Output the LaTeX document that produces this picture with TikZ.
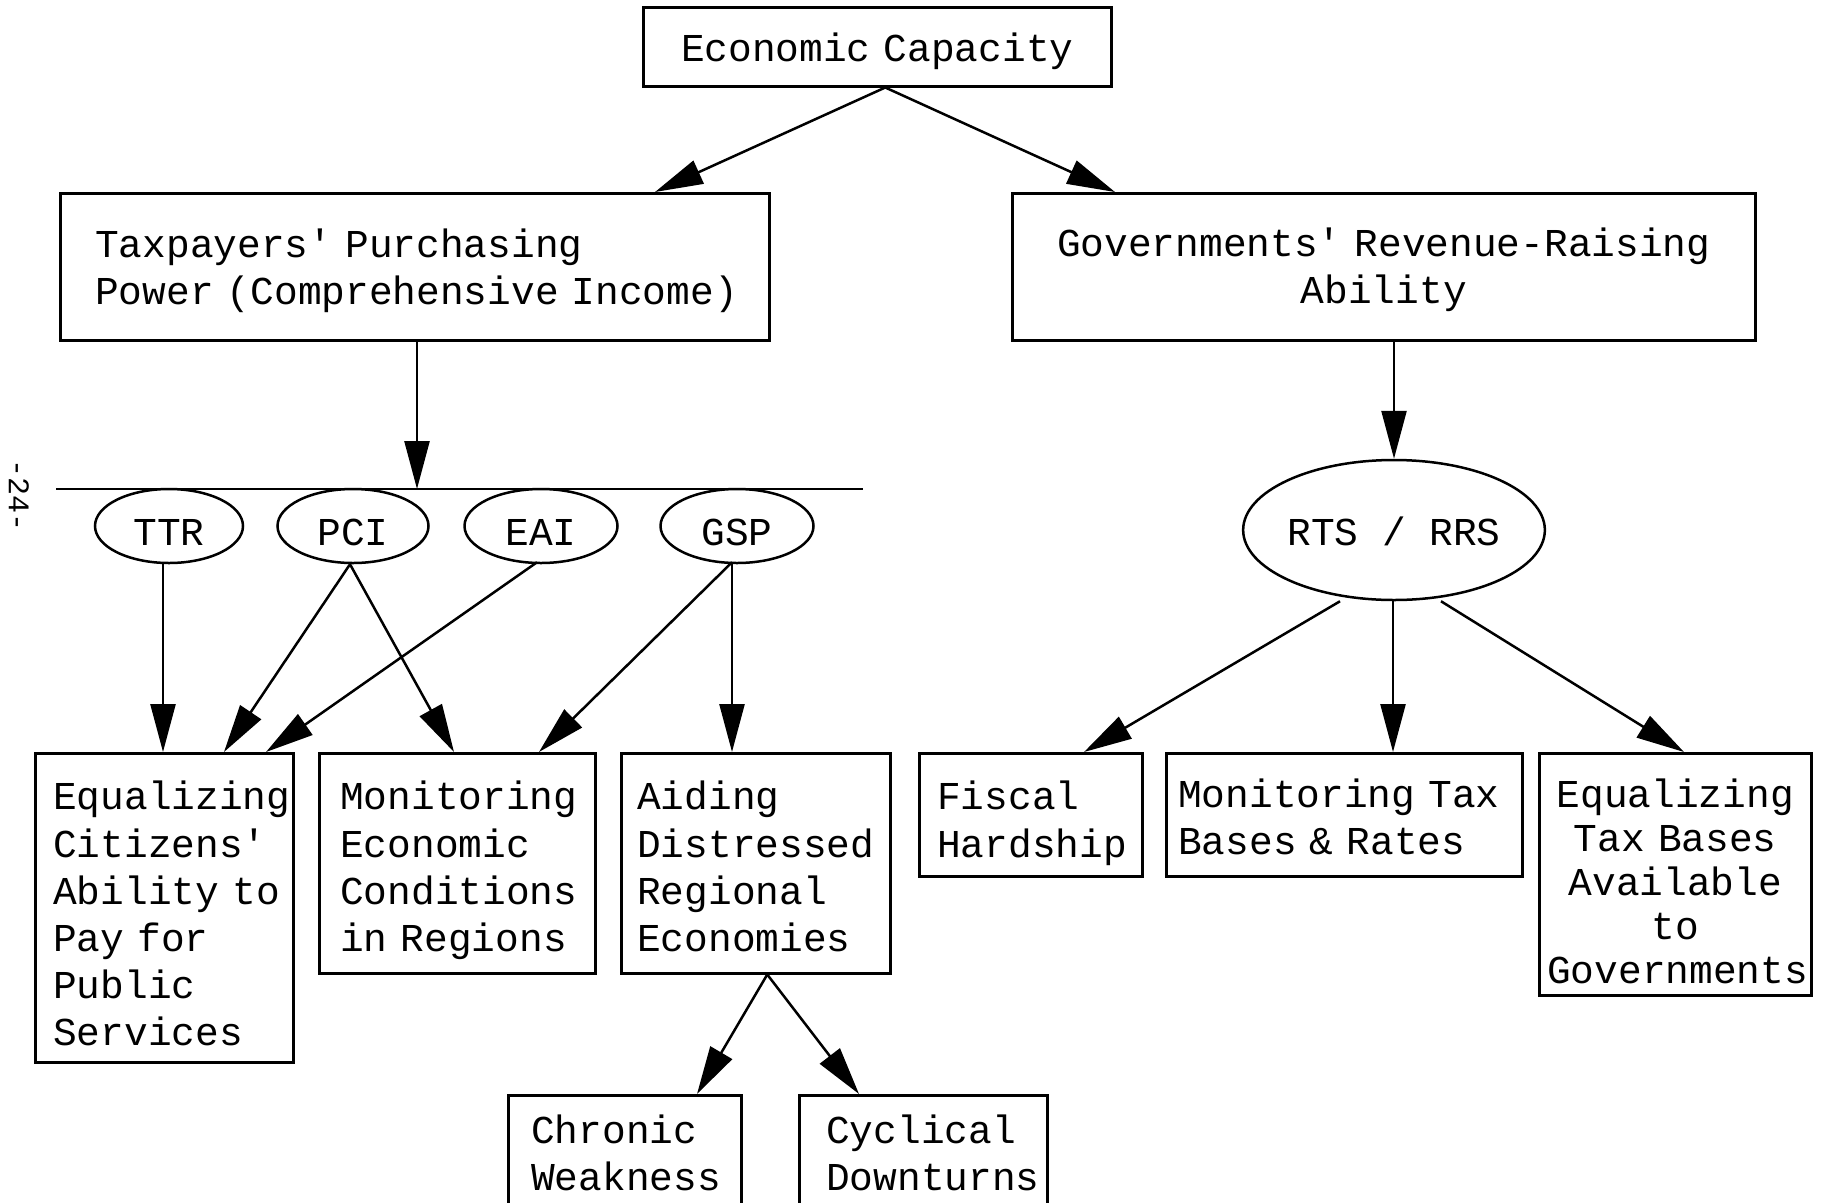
\documentclass[tikz,border=0pt]{standalone}
\usepackage{fontspec}
\newfontfamily\plotfont{Liberation Mono}
\usetikzlibrary{arrows.meta,shapes.geometric}
\newcommand\diagfont{\plotfont\fontsize{39.5pt}{47.2pt}\selectfont\hyphenpenalty=10000\exhyphenpenalty=10000}
\begin{document}
\begin{tikzpicture}[x=1pt,y=-1pt,
  lw/.style={line width=2.5pt},
  box/.style={draw, lw, rectangle, anchor=north west, inner ysep=0pt, font=\diagfont, align=left, text height=0pt},
  cbox/.style={draw, lw, rectangle, anchor=north west, inner ysep=0pt, font=\diagfont, align=center, text height=0pt},
  oval/.style={draw, lw, ellipse, inner sep=0pt, font=\diagfont, text height=38pt, text depth=0pt},
  arr/.style={lw, -{Triangle[length=48pt,width=25pt]}},
  bar/.style={lw}
]
\clip (0,0) rectangle (1827,1202);
\fill[white] (0,0) rectangle (1827,1202);

% top
\node[cbox, minimum width=468pt, minimum height=79pt, text width=440pt, inner xsep=14pt,
      text height=30pt, text depth=0pt] (ec) at (642,6) {Economic Capacity};

\node[box, minimum height=147pt, inner xsep=35pt, text width=639pt, text depth=18.4pt] (tp) at (59,192)
  {\mbox{Taxpayers' Purchasing}\\\mbox{Power (Comprehensive Income)}};
\node[cbox, minimum height=147pt, inner xsep=21.5pt, text width=700pt, text depth=20.6pt] (gov) at (1011,192)
  {\mbox{Governments' Revenue-Raising}\\Ability};

% bar and ellipses
\coordinate (barL) at (56,489);
\coordinate (barR) at (863,489);
\coordinate (barhit) at (417,489);
\draw[bar] (barL) -- (barR);

\node[oval, minimum width=148pt, minimum height=74pt] (ttr) at (169,526) {TTR};
\node[oval, minimum width=151pt, minimum height=74pt] (pci) at (353,526) {PCI};
\node[oval, minimum width=153pt, minimum height=74pt] (eai) at (541,526) {EAI};
\node[oval, minimum width=153pt, minimum height=74pt] (gsp) at (737,526) {GSP};

\node[oval, minimum width=294pt, minimum height=140pt, text height=30pt] (rts) at (1394,530) {RTS / RRS};

% bottom-left boxes
\node[box, minimum height=309pt, inner xsep=18pt, text width=222pt, text depth=195.6pt] (eqc) at (34,752)
  {Equalizing\\Citizens'\\\mbox{Ability to}\\\mbox{Pay for}\\Public\\Services};
\node[box, minimum height=220pt, inner xsep=21pt, text width=234pt, text depth=106.6pt] (mone) at (318,752)
  {Monitoring\\Economic\\Conditions\\\mbox{in Regions}};
\node[box, minimum height=220pt, inner xsep=16pt, text width=237pt, text depth=106.6pt] (aid) at (620,752)
  {Aiding\\Distressed\\Regional\\Economies};
\node[box, minimum height=125pt, inner xsep=23pt, text width=187pt, text depth=29.2pt] (chr) at (507,1094)
  {Chronic\\Weakness};
\node[box, minimum height=125pt, inner xsep=27pt, text width=194pt, text depth=29.2pt] (cyc) at (798,1094)
  {Cyclical\\Downturns};

% bottom-right boxes
\node[box, minimum height=123pt, inner xsep=18pt, text width=187pt, text depth=9.6pt] (fis) at (918,752)
  {Fiscal\\Hardship};
\node[box, minimum height=123pt, inner xsep=12pt, text width=332pt, text depth=14.4pt] (mont) at (1165,752)
  {\mbox{Monitoring Tax}\\\mbox{Bases \& Rates}};
\node[cbox, minimum height=242pt, inner xsep=8pt, text width=256pt, text depth=133.4pt,
      font=\plotfont\fontsize{39.5pt}{44pt}\selectfont] (eqt) at (1538,752)
  {Equalizing\\\mbox{Tax Bases}\\Available\\to\\Governments};

% page number
\node[rotate=-90, font=\plotfont\fontsize{30pt}{32pt}\selectfont, inner sep=0pt] (pagenum) at (19,495) {-24-};

% connectors
\draw[arr] ([xshift=8pt]ec.south) -- ([xshift=596pt]tp.north west);
\draw[arr] ([xshift=8pt]ec.south) -- ([xshift=104pt]gov.north west);

\draw[arr] (tp.south -| barhit) -- (barhit);
\draw[arr] (gov.south -| rts.north) -- (rts.north);

\draw[arr] ([xshift=-6pt]ttr.south) -- ([xshift=129pt]eqc.north west);
\draw[arr] ([xshift=-3pt]pci.south) -- ([xshift=190pt]eqc.north west);
\draw[arr] ([xshift=-3pt]pci.south) -- ([xshift=136pt]mone.north west);
\draw[arr] ([xshift=-4pt,yshift=2pt]eai.south) -- ([xshift=232pt]eqc.north west);
\draw[arr] ([xshift=-5pt,yshift=2pt]gsp.south) -- ([xshift=221pt]mone.north west);
\draw[arr] ([xshift=-5pt,yshift=2pt]gsp.south) -- ([xshift=112pt]aid.north west);

\draw[arr] ([xshift=11.5pt]aid.south) -- ([xshift=190pt]chr.north west);
\draw[arr] ([xshift=11.5pt]aid.south) -- ([xshift=61pt]cyc.north west);

\draw[arr] ([xshift=-54pt]rts.south) -- ([xshift=166pt]fis.north west);
\draw[arr] ([xshift=-1pt]rts.south) -- ([xshift=228pt]mont.north west);
\draw[arr] ([xshift=47pt]rts.south) -- ([xshift=146pt]eqt.north west);
\end{tikzpicture}
\end{document}
